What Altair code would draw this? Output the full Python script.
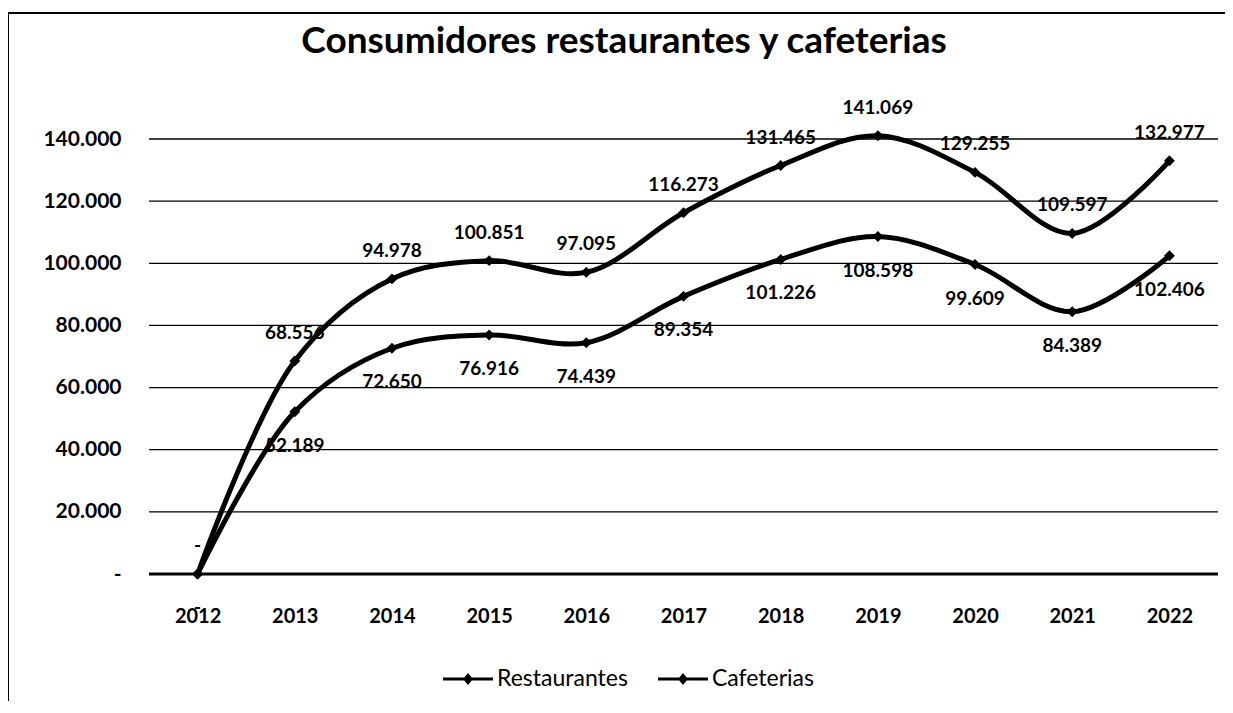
import altair as alt
import pandas as pd

# ---- data ----
years = [2012, 2013, 2014, 2015, 2016, 2017, 2018, 2019, 2020, 2021, 2022]
series_names = ["Restaurantes", "Cafeterias"]
restaurantes = [0, 68556, 94978, 100851, 97095, 116273, 131465, 141069, 129255, 109597, 132977]
cafeterias = [0, 52189, 72650, 76916, 74439, 89354, 101226, 108598, 99609, 84389, 102406]
y_ticks = [0, 20000, 40000, 60000, 80000, 100000, 120000, 140000]
title_text = "Consumidores restaurantes y cafeterias"

df = pd.DataFrame({
    "year": years + years,
    "value": restaurantes + cafeterias,
    "serie": [series_names[0]] * len(years) + [series_names[1]] * len(years),
})
grid_df = pd.DataFrame({"value": y_ticks})

W, H = 1240, 710
FONT = "Lato"

xscale = alt.Scale(domain=[2011.5, 2022.5], range=[141, 1210], nice=False, zero=False)
yscale = alt.Scale(domain=[0, 140000], range=[561, 126], nice=False, zero=False)

label_expr = "datum.value == 0 ? '-\u00a0\u00a0\u00a0' : replace(format(datum.value, ','), ',', '.')"

y_axis = alt.Axis(
    values=y_ticks, labelExpr=label_expr, domain=False, ticks=False, grid=False,
    tickSize=0, labelPadding=0, offset=-113, title=None, labelFont=FONT,
    labelFontSize=21, labelFontWeight="bold", labelColor="black",
    labelFlush=False, labelOverlap=False)
x_axis = alt.Axis(
    values=years, format="d", domain=False, ticks=False, grid=False, tickSize=0,
    offset=-117, labelPadding=0, labelBaseline="top", title=None, labelFont=FONT,
    labelFontSize=20, labelFontWeight="bold", labelColor="black",
    labelFlush=False, labelOverlap=False)

y_enc = alt.Y("value:Q", scale=yscale, axis=y_axis)
x_enc = alt.X("year:Q", scale=xscale, axis=x_axis)

grid = alt.Chart(grid_df).mark_rule(color="black").encode(
    y=y_enc,
    x=alt.XDatum(2011.5, type="quantitative", scale=xscale, axis=x_axis),
    x2=alt.X2Datum(2022.5),
    strokeWidth=alt.condition("datum.value == 0", alt.value(3), alt.value(1.3)),
)

text_calc = "datum.value == 0 ? '-' : replace(format(datum.value, ','), ',', '.')"

labels_top = alt.Chart(df).transform_filter(
    alt.datum.serie == series_names[0]
).transform_calculate(lbl=text_calc).mark_text(
    font=FONT, fontSize=19, fontWeight="bold", color="black", dy=-28, baseline="middle"
).encode(x=x_enc, y=y_enc, text="lbl:N")

labels_bot = alt.Chart(df).transform_filter(
    alt.datum.serie == series_names[1]
).transform_calculate(lbl=text_calc).mark_text(
    font=FONT, fontSize=19, fontWeight="bold", color="black", dy=34, baseline="middle"
).encode(x=x_enc, y=y_enc, text="lbl:N")

lines = alt.Chart(df).mark_line(
    interpolate="catmull-rom", strokeWidth=5, color="black"
).encode(x=x_enc, y=y_enc, detail="serie:N")

legend_symbol = "M-1,-0.06L1,-0.06L1,0.06L-1,0.06Z M0,-0.24L0.2,0L0,0.24L-0.2,0Z"

points = alt.Chart(df).mark_point(
    shape="diamond", filled=True, size=120, opacity=1
).encode(
    x=x_enc, y=y_enc,
    color=alt.Color("serie:N", scale=alt.Scale(domain=series_names, range=["black", "black"]),
                    legend=alt.Legend(
                        title=None, orient="none", legendX=435, legendY=641,
                        direction="horizontal", columns=2, symbolType=legend_symbol,
                        symbolSize=2500, symbolFillColor="black", symbolStrokeWidth=0,
                        symbolOpacity=1, labelFont=FONT, labelFontSize=23,
                        labelColor="black", columnPadding=30, labelOffset=4, padding=0)),
)

chart = alt.layer(grid, labels_top, labels_bot, lines, points).properties(
    width=W, height=H,
    title=alt.Title(title_text, font=FONT, fontSize=37, fontWeight="bold", color="black",
                    anchor="middle", offset=-42, baseline="alphabetic", dx=-4, dy=35),
    padding={"left": 0, "top": 5, "right": -23, "bottom": -22},
    autosize="none",
    background="white",
).configure_view(stroke="black", strokeWidth=2)

chart.save("out.html", embed_options={"renderer": "svg", "actions": False})
